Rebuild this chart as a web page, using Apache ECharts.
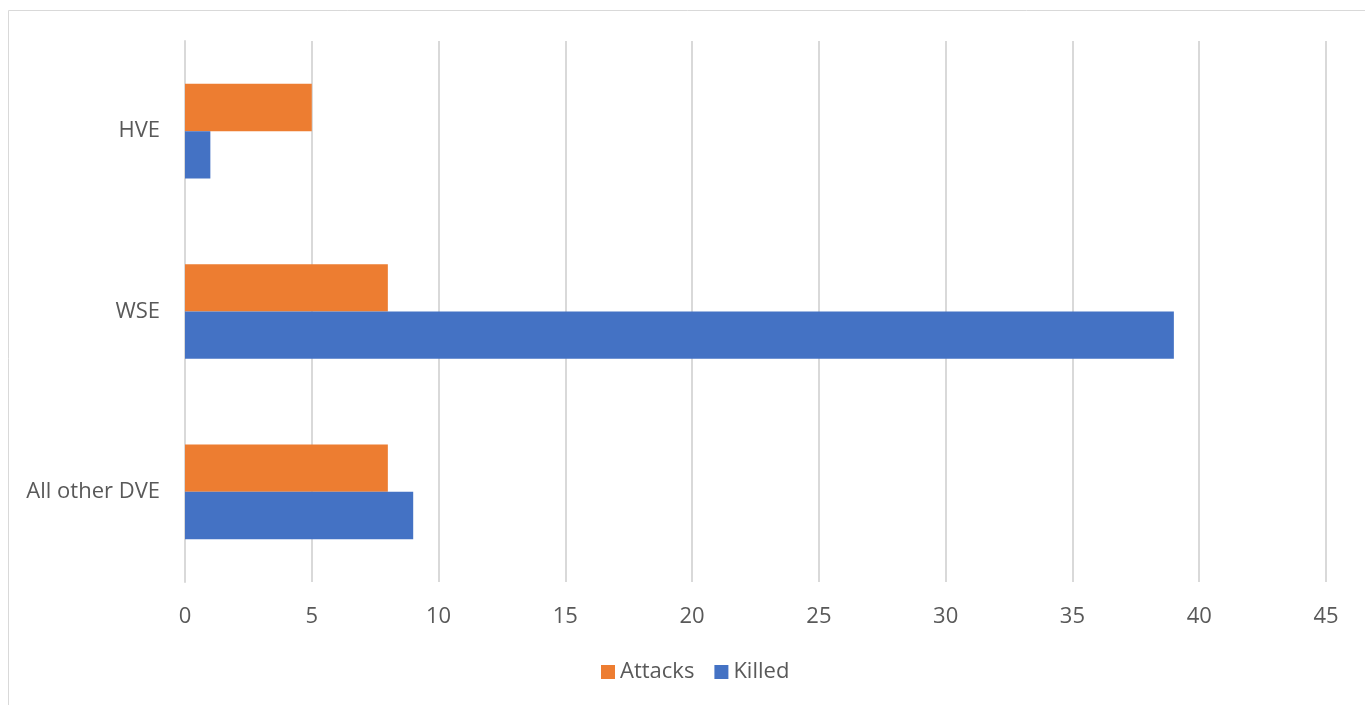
<!DOCTYPE html>
<html><head><meta charset="utf-8">
<script src="https://cdn.jsdelivr.net/npm/echarts@6/dist/echarts.min.js"></script>
<style>html,body{margin:0;padding:0;background:#fff}#c{width:1365px;height:705px}</style>
</head><body><div id="c"></div>
<script>
const categories = ['All other DVE', 'WSE', 'HVE'];
const attacks = [8, 8, 5];
const killed = [9, 39, 1];
const xTicks = { min: 0, max: 45, interval: 5 };

const chart = echarts.init(document.getElementById('c'));
const txt = '#595959';
const font = 'Open Sans';
chart.setOption({
  animation: false,
  graphic: [{ type: 'rect', shape: { x: 8.5, y: 10.5, width: 1400, height: 800 },
    style: { fill: 'none', stroke: '#D9D9D9', lineWidth: 1 }, silent: true }],
  grid: { left: 185, right: 39, top: 41, bottom: 123, containLabel: false },
  legend: {
    data: ['Attacks', 'Killed'], left: 596, top: 656, itemWidth: 14, itemHeight: 14, itemGap: 20,
    icon: 'rect', textStyle: { color: txt, fontSize: 22, fontFamily: font }
  },
  xAxis: {
    type: 'value', min: xTicks.min, max: xTicks.max, interval: xTicks.interval,
    axisLine: { show: false }, axisTick: { show: false },
    splitLine: { lineStyle: { color: '#D9D9D9', width: 2 } },
    axisLabel: { color: txt, fontSize: 22, fontFamily: font, margin: 24 }
  },
  yAxis: {
    type: 'category', data: categories,
    axisLine: { lineStyle: { color: '#D9D9D9', width: 2 } }, axisTick: { show: false },
    axisLabel: { color: txt, fontSize: 22, fontFamily: font, margin: 25 }
  },
  series: [
    { name: 'Attacks', type: 'bar', data: attacks, itemStyle: { color: '#ED7D31' },
      barGap: '0%', barCategoryGap: '47.5%' },
    { name: 'Killed', type: 'bar', data: killed, itemStyle: { color: '#4472C4' },
      barGap: '0%', barCategoryGap: '47.5%' }
  ]
});
</script></body></html>
